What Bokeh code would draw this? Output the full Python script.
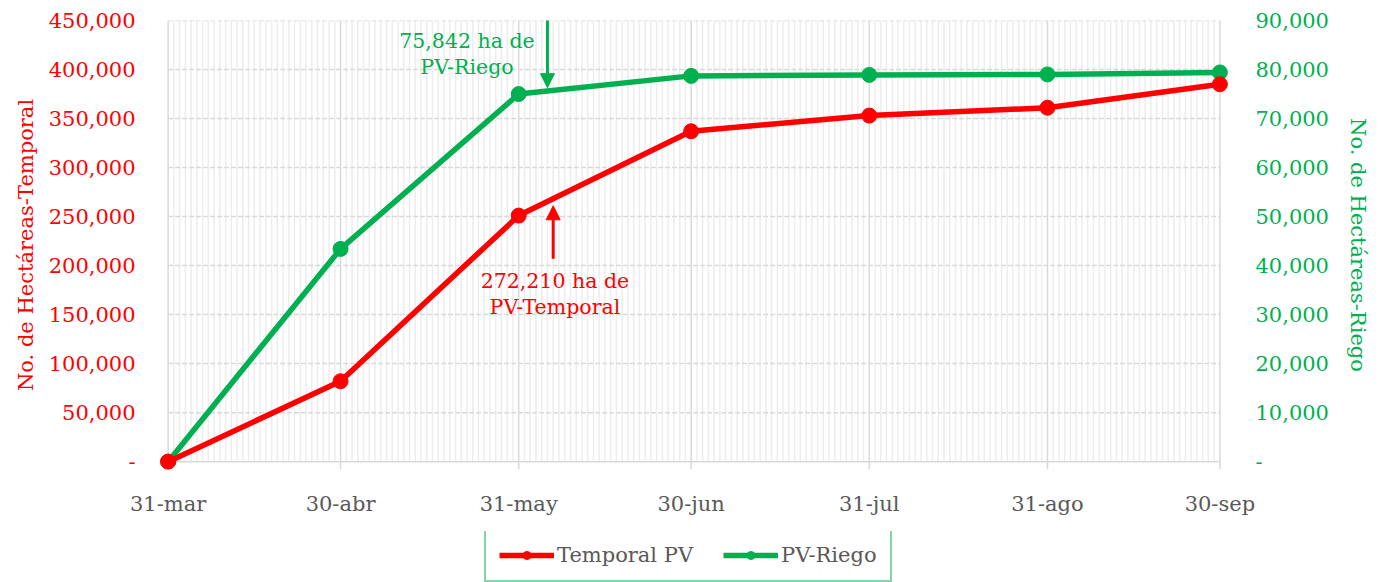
import pandas as pd
from bokeh.plotting import figure
from bokeh.layouts import column
from bokeh.models import (LinearAxis, Range1d, FixedTicker, NumeralTickFormatter,
                          Legend, LegendItem, Arrow, NormalHead, Label)
from bokeh.embed import file_html
from bokeh.resources import INLINE

# ---- data ----
dates = ["2023-03-31", "2023-04-30", "2023-05-31", "2023-06-30",
         "2023-07-31", "2023-08-31", "2023-09-30"]
x_labels = ["31-mar", "30-abr", "31-may", "30-jun", "31-jul", "31-ago", "30-sep"]
temporal = [0, 82000, 251000, 337000, 353000, 361000, 385000]
riego = [0, 43400, 75000, 78700, 78900, 79000, 79400]
left_ticks = [0, 50000, 100000, 150000, 200000, 250000, 300000, 350000, 400000, 450000]
right_ticks = [0, 10000, 20000, 30000, 40000, 50000, 60000, 70000, 80000, 90000]
series_names = ["Temporal PV", "PV-Riego"]

riego_note = ["75,842 ha de", "PV-Riego"]
temporal_note = ["272,210 ha de", "PV-Temporal"]

RED = "#FF0000"
GREEN = "#00B050"
GREY_TXT = "#595959"
GRID = "#D9D9D9"
MINOR = "#EDEDED"
FONT = "DejaVu Serif"
FS = "21px"
BL, BR, FW = 159, 144, 1069

d = pd.to_datetime(dates)
x = [(t - d[0]).days for t in d]
total_days = x[-1]
days = list(range(0, total_days + 1))
ymax_l, ymax_r = left_ticks[-1], right_ticks[-1]
pad_frac = 0.0178          # small room so end markers are not cut by the frame
pad_days = 1.5

xr = Range1d(-pad_days, total_days + pad_days)
p = figure(frame_width=FW, frame_height=449, output_backend="svg", toolbar_location=None,
           x_range=xr, y_range=Range1d(-pad_frac * ymax_l, ymax_l),
           min_border_left=BL, min_border_right=BR, min_border_top=20,
           min_border_bottom=62)
p.outline_line_color = None
p.background_fill_color = "white"
p.extra_y_ranges = {"riego": Range1d(-pad_frac * ymax_r, ymax_r)}
p.xgrid.grid_line_color = None
p.ygrid.grid_line_color = None

# grid lines drawn from the tick lists
minor_days = [dd for dd in days if dd not in x]
p.segment(x0=minor_days, y0=[0] * len(minor_days), x1=minor_days,
          y1=[ymax_l] * len(minor_days), line_color=MINOR, line_width=1.5)
p.segment(x0=[0] * len(left_ticks[1:]), y0=left_ticks[1:], x1=[total_days] * len(left_ticks[1:]),
          y1=left_ticks[1:], line_color=GRID, line_width=1.5, line_dash="5 2")
p.segment(x0=[0], y0=[0], x1=[total_days], y1=[0], line_color=GRID, line_width=1.5)
p.segment(x0=x, y0=[p.y_range.start] * len(x), x1=x, y1=[ymax_l] * len(x),
          line_color=GRID, line_width=1.5)

# x axis
xa = p.xaxis[0]
xa.ticker = FixedTicker(ticks=x)
xa.major_label_overrides = {xi: lab for xi, lab in zip(x, x_labels)}
xa.axis_line_color = None
xa.major_tick_line_color = None
xa.minor_tick_line_color = None
xa.major_label_text_font = FONT
xa.major_label_text_font_size = FS
xa.major_label_text_color = GREY_TXT
xa.major_label_standoff = 16

# left axis
ya = p.yaxis[0]
ya.ticker = FixedTicker(ticks=left_ticks)
ya.formatter = NumeralTickFormatter(format="0,0")
ya.major_label_overrides = {0: "-"}
ya.axis_line_color = None
ya.major_tick_line_color = None
ya.minor_tick_line_color = None
ya.major_label_text_font = FONT
ya.major_label_text_font_size = FS
ya.major_label_text_color = RED
ya.major_label_standoff = 18
ya.axis_label = "No. de Hectáreas-Temporal"
ya.axis_label_text_font = FONT
ya.axis_label_text_font_style = "normal"
ya.axis_label_text_font_size = FS
ya.axis_label_text_color = RED
ya.axis_label_standoff = 8

# right axis
ra = LinearAxis(y_range_name="riego", ticker=FixedTicker(ticks=right_ticks),
                formatter=NumeralTickFormatter(format="0,0"))
ra.major_label_overrides = {0: "-"}
ra.axis_line_color = None
ra.major_tick_line_color = None
ra.minor_tick_line_color = None
ra.major_label_text_font = FONT
ra.major_label_text_font_size = FS
ra.major_label_text_color = GREEN
ra.major_label_standoff = 21
ra.axis_label = "No. de Hectáreas-Riego"
ra.axis_label_text_font = FONT
ra.axis_label_text_font_style = "normal"
ra.axis_label_text_font_size = FS
ra.axis_label_text_color = GREEN
ra.axis_label_standoff = 14
p.add_layout(ra, "right")

# series
p.line(x, riego, y_range_name="riego", line_color=GREEN, line_width=5.5)
p.scatter(x, riego, y_range_name="riego", size=15, fill_color=GREEN, line_color=GREEN)
p.line(x, temporal, line_color=RED, line_width=5.5)
p.scatter(x, temporal, size=15, fill_color=RED, line_color=RED)

# annotations
p.add_layout(Arrow(end=NormalHead(size=14, fill_color=GREEN, line_color=GREEN),
                   x_start=66, y_start=92500, x_end=66, y_end=76300,
                   y_range_name="riego", line_color=GREEN, line_width=3))
p.add_layout(Arrow(end=NormalHead(size=14, fill_color=RED, line_color=RED),
                   x_start=67, y_start=207000, x_end=67, y_end=261000,
                   line_color=RED, line_width=3))
for txt, yy in zip(riego_note, [85900, 80600]):
    p.add_layout(Label(x=52, y=yy, y_range_name="riego", text=txt, text_align="center",
                       text_baseline="middle", text_color=GREEN, text_font=FONT,
                       text_font_size="20.5px"))
for txt, yy in zip(temporal_note, [184700, 158200]):
    p.add_layout(Label(x=67.3, y=yy, text=txt, text_align="center",
                       text_baseline="middle", text_color=RED, text_font=FONT,
                       text_font_size="20.5px"))

# ---- legend strip: a second figure with the same borders ----
# its y range lies below the data, so the series drawn here stay out of view
p2 = figure(frame_width=FW, frame_height=51, output_backend="svg", toolbar_location=None,
            x_range=xr, y_range=Range1d(-2, -1),
            x_axis_location=None, y_axis_location=None,
            min_border_left=BL, min_border_right=BR, min_border_top=0, min_border_bottom=0)
p2.grid.grid_line_color = None
p2.outline_line_color = None
lr1 = p2.line(x, temporal, line_color=RED, line_width=5.5)
sr1 = p2.scatter(x, temporal, size=15, fill_color=RED, line_color=RED)
lr2 = p2.line(x, riego, line_color=GREEN, line_width=5.5)
sr2 = p2.scatter(x, riego, size=15, fill_color=GREEN, line_color=GREEN)
legend = Legend(items=[LegendItem(label=series_names[0], renderers=[lr1, sr1]),
                       LegendItem(label=series_names[1], renderers=[lr2, sr2])],
                orientation="horizontal", location=(325, 0),
                border_line_color=GREEN, border_line_width=2,
                label_text_font=FONT, label_text_font_size=FS,
                label_text_color=GREY_TXT, glyph_width=55, glyph_height=20,
                padding=13, spacing=30, margin=0, label_standoff=3)
p2.add_layout(legend, "center")

open("out.html", "w").write(file_html(column(p, p2, spacing=0), INLINE))
